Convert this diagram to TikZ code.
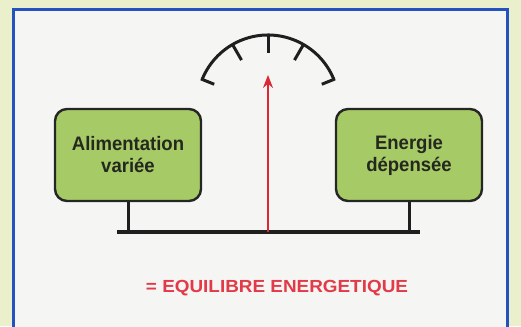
\documentclass[tikz,border=0pt]{standalone}
\usepackage{fontspec}
\setmainfont{Liberation Sans}
\usetikzlibrary{arrows.meta}
\definecolor{outerbg}{RGB}{234,240,204}
\definecolor{panelbg}{RGB}{245,245,243}
\definecolor{frameblue}{RGB}{36,82,190}
\definecolor{boxgreen}{RGB}{166,202,102}
\definecolor{boxtext}{RGB}{36,40,30}
\definecolor{eqred}{RGB}{226,58,72}
\definecolor{arrowred}{RGB}{220,40,50}
\tikzset{
  greenbox/.style={draw=black!85, line width=2.4pt, fill=boxgreen, rounded corners=12pt,
    minimum width=146pt, minimum height=92pt, align=center, text=boxtext,
    font=\fontsize{19.5}{22}\selectfont\bfseries, inner sep=0pt},
  blk/.style={draw=black!88, line width=3pt},
  tick/.style={draw=black!88, line width=3pt},
}
\begin{document}
\begin{tikzpicture}[x=1pt,y=1pt]
\useasboundingbox (0,0) rectangle (521,326);
\fill[outerbg] (0,0) rectangle (521,326);
\draw[frameblue, line width=3pt, fill=panelbg] (13,-10) rectangle (507,316);
% boxes
\node[greenbox] (L) at (128,171) {\scalebox{0.95}[1]{Alimentation}\\\scalebox{0.95}[1]{variée}};
\node[greenbox] (R) at (409,171) {\scalebox{0.95}[1]{Energie}\\\scalebox{0.95}[1]{dépensée}};
% bar
\coordinate (barL) at (117,94);
\coordinate (barR) at (420,94);
\coordinate (mid) at (268,94);
\draw[blk, line width=4pt] (barL) -- (barR);
\draw[blk] (L.south) -- (L.south |- mid);
\draw[blk] (R.south) -- (R.south |- mid);
% gauge
\coordinate (c) at (268,220);
\draw[blk] ([shift={(22:71)}]c) arc[start angle=22, end angle=158, radius=71];
\foreach \a in {60,90,120}{
  \draw[tick] ([shift={(\a:71)}]c) -- ([shift={(\a:53)}]c);
}
\foreach \a in {22,158}{
  \draw[tick] ([shift={(\a:72.4)}]c) -- ([shift={(\a:58)}]c);
}
% arrow
\coordinate (tip) at (268,251);
\draw[arrowred, line width=1.6pt, -{Stealth[length=13pt,width=10pt]}] (mid) -- (tip);
% label
\node[text=eqred, font=\fontsize{17.5}{20}\selectfont\bfseries] (eq) at (277,38)
  {\scalebox{1.08}[1]{= EQUILIBRE ENERGETIQUE}};
\end{tikzpicture}
\end{document}
